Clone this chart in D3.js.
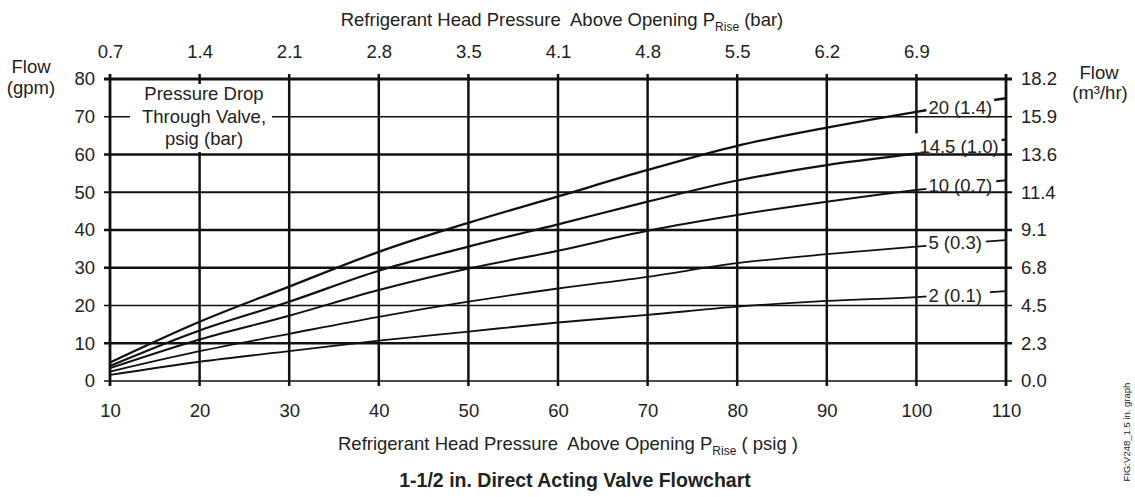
<!DOCTYPE html>
<html>
<head>
<meta charset="utf-8">
<script src="https://cdn.jsdelivr.net/npm/d3@7"></script>
<style>
  body { margin: 0; background: #fff; }
  svg text { font-family: "Liberation Sans", Arial, sans-serif; fill: #222; }
</style>
</head>
<body>
<div class="chartWrap"></div>
<script>
//Data
const psig = [10, 20, 30, 40, 50, 60, 70, 80, 90, 100, 110];
const drop20 = [4.9, 15.7, 25.0, 34.2, 41.9, 48.9, 55.9, 62.3, 67.1, 71.3, 74.9];
const drop14 = [4.0, 13.4, 21.0, 29.2, 35.6, 41.5, 47.5, 53.1, 57.2, 60.3, 64.0];
const drop10 = [3.4, 11.0, 17.3, 24.1, 29.8, 34.5, 39.8, 44.0, 47.5, 50.6, 53.2];
const drop5 = [2.5, 7.9, 12.5, 17.0, 21.0, 24.5, 27.6, 31.2, 33.6, 35.6, 37.3];
const drop2 = [1.6, 5.1, 7.9, 10.7, 13.1, 15.5, 17.5, 19.7, 21.2, 22.2, 23.8];
const seriesNames = ["20 (1.4)", "14.5 (1.0)", "10 (0.7)", "5 (0.3)", "2 (0.1)"];
const gpmTicks = [0, 10, 20, 30, 40, 50, 60, 70, 80];
const m3Labels = ["0.0", "2.3", "4.5", "6.8", "9.1", "11.4", "13.6", "15.9", "18.2"];
const psigTicks = [10, 20, 30, 40, 50, 60, 70, 80, 90, 100, 110];
const barTicks = [10, 20, 30, 40, 50, 60, 70, 80, 90, 100];
const barLabels = ["0.7", "1.4", "2.1", "2.8", "3.5", "4.1", "4.8", "5.5", "6.2", "6.9"];

const w = 1135, h = 497, fs = 18.5;
const x = d3.scaleLinear().domain([10, 110]).range([110, 1006]);
const y = d3.scaleLinear().domain([0, 80]).range([381, 79]);

let chart = d3.select(".chartWrap").append("svg").attr("width", w).attr("height", h);

//Grid
const hWidth = {0: 1.5, 10: 2.5, 20: 1.6, 30: 2.5, 40: 2.5, 50: 1.8, 60: 2.5, 70: 1.6, 80: 2.8};
chart.append("g").selectAll("line").data(gpmTicks).enter().append("line")
  .attr("x1", x(10) - 6).attr("x2", x(110) + 6)
  .attr("y1", d => y(d)).attr("y2", d => y(d))
  .attr("stroke", "#111").attr("stroke-width", d => hWidth[d]);
chart.append("g").selectAll("line").data(psigTicks).enter().append("line")
  .attr("x1", d => x(d)).attr("x2", d => x(d))
  .attr("y1", y(80) - 5).attr("y2", y(0) + 5)
  .attr("stroke", "#111").attr("stroke-width", d => (d == 10 || d == 110) ? 2.8 : 2.5);

//Curves
const allSeries = [drop20, drop14, drop10, drop5, drop2];
const widths = [2.3, 2.2, 2.0, 1.8, 1.8];
const line = d3.line().x((d, i) => x(psig[i])).y(d => y(d)).curve(d3.curveMonotoneX);
chart.append("g").selectAll("path").data(allSeries).enter().append("path")
  .attr("d", d => line(d)).attr("fill", "none")
  .attr("stroke", "#111").attr("stroke-width", (d, i) => widths[i]);

//Curve labels (white boxes hide the curve behind the text)
const labelDx = [12, 3, 12, 12, 12];
const labelDy = [2, 0, 2, 2.5, 4.5];
const labelPadR = [2, 3, 4, 4, 8];
const labelG = chart.append("g");
allSeries.forEach(function(s, i) {
  let base = y(s[9]) + labelDy[i];
  let t = labelG.append("text").text(seriesNames[i])
    .attr("x", x(100) + labelDx[i]).attr("y", base).attr("font-size", fs);
  let b = t.node().getBBox();
  let left = i == 1 ? x(100) - 5 : b.x - 2;
  let top = i == 1 ? base - 20 : b.y + 2;
  labelG.insert("rect", "text").attr("x", left).attr("y", top)
    .attr("width", b.x + b.width + labelPadR[i] - left).attr("height", base - 1 - top)
    .attr("fill", "#fff");
});

//Legend box
chart.append("rect").attr("x", 130).attr("y", 84).attr("width", 142).attr("height", 68).attr("fill", "#fff");
["Pressure Drop", "Through Valve,", "psig (bar)"].forEach(function(s, i) {
  chart.append("text").text(s).attr("x", 204).attr("y", 100 + i * 22.5)
    .attr("text-anchor", "middle").attr("font-size", fs);
});

//Axes
function styleAxis(g) {
  g.select(".domain").remove();
  g.selectAll("text").attr("font-size", fs).attr("fill", "#222")
    .attr("font-family", "Liberation Sans, Arial, sans-serif");
}
chart.append("g").attr("transform", "translate(" + x(10) + ",0)")
  .call(d3.axisLeft(y).tickValues(gpmTicks).tickSize(0).tickPadding(15)).call(styleAxis);
chart.append("g").attr("transform", "translate(" + x(110) + ",0)")
  .call(d3.axisRight(y).tickValues(gpmTicks).tickSize(0).tickPadding(15)
    .tickFormat((d, i) => m3Labels[i])).call(styleAxis);
chart.append("g").attr("transform", "translate(0," + y(0) + ")")
  .call(d3.axisBottom(x).tickValues(psigTicks).tickSize(0).tickPadding(23)).call(styleAxis);
chart.append("g").attr("transform", "translate(0," + y(80) + ")")
  .call(d3.axisTop(x).tickValues(barTicks).tickSize(0).tickPadding(21)
    .tickFormat((d, i) => barLabels[i])).call(styleAxis);

//Axis titles
function riseTitle(tx, ty, tail) {
  let t = chart.append("text").attr("x", tx).attr("y", ty).attr("text-anchor", "middle").attr("font-size", fs);
  t.append("tspan").text("Refrigerant Head Pressure\u00a0 Above Opening P");
  t.append("tspan").text("Rise").attr("font-size", 12).attr("dy", 5);
  t.append("tspan").text(tail).attr("dy", -5);
}
riseTitle(562, 26, " (bar)");
riseTitle(568, 450, " ( psig )");

chart.append("text").text("Flow").attr("x", 31).attr("y", 73).attr("text-anchor", "middle").attr("font-size", fs);
chart.append("text").text("(gpm)").attr("x", 31).attr("y", 94).attr("text-anchor", "middle").attr("font-size", fs);
chart.append("text").text("Flow").attr("x", 1099).attr("y", 79).attr("text-anchor", "middle").attr("font-size", fs);
chart.append("text").text("(m³/hr)").attr("x", 1100).attr("y", 99).attr("text-anchor", "middle").attr("font-size", fs);

//Title
chart.append("text").text("1-1/2 in. Direct Acting Valve Flowchart").attr("x", 575).attr("y", 487)
  .attr("text-anchor", "middle").attr("font-size", 19.5).attr("font-weight", "bold");

//Figure tag
chart.append("text").text("FIG:V248_1.5 in. graph")
  .attr("transform", "translate(1130,432) rotate(-90)")
  .attr("text-anchor", "middle").attr("font-size", 9.5).attr("fill", "#777");
</script>
</body>
</html>
